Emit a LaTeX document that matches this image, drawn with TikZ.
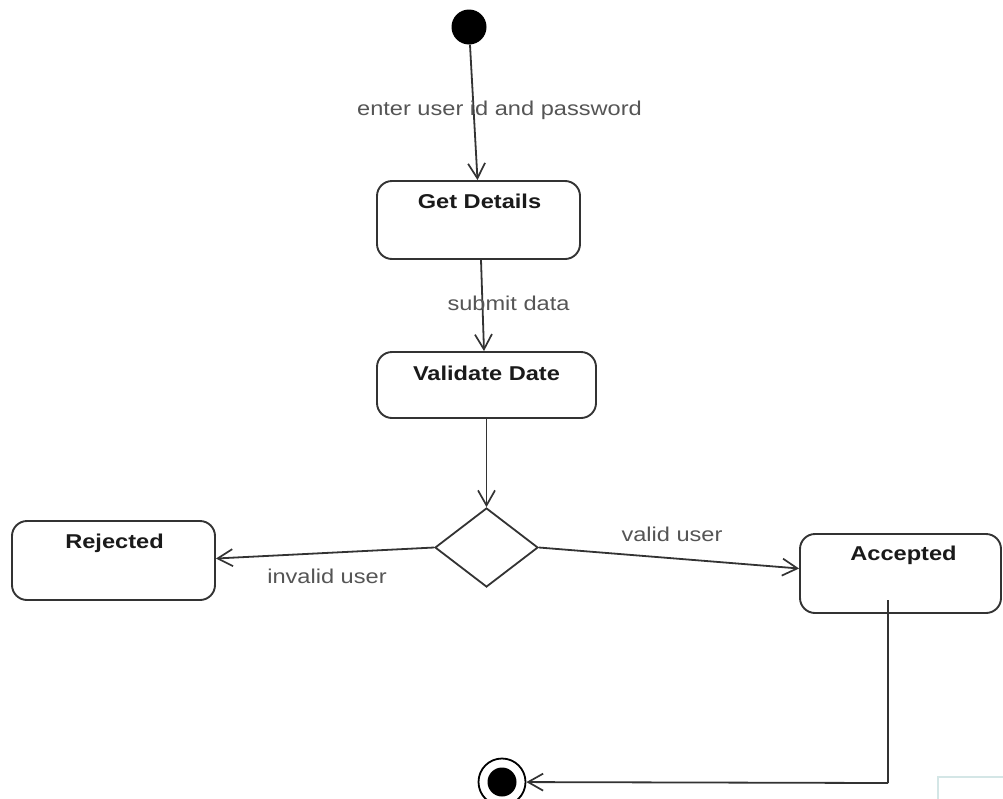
\documentclass[tikz,border=0pt]{standalone}
\usepackage{fontspec}
\setmainfont{Liberation Sans}[FakeStretch=1.18]
\usetikzlibrary{shapes.geometric,arrows.meta}
\definecolor{linec}{HTML}{333333}
\definecolor{titlec}{HTML}{1A1A1A}
\definecolor{labelc}{HTML}{555555}
\definecolor{faintc}{HTML}{D4E6E6}
\tikzset{
  statebox/.style={draw=linec, line width=1.9pt, rounded corners=15pt, inner sep=0pt, fill=white},
  titletext/.style={text=titlec, font=\fontsize{20}{24}\selectfont\bfseries, inner sep=0pt},
  edgetext/.style={text=labelc, font=\fontsize{20}{24}\selectfont, inner sep=0pt},
  flow/.style={draw=linec, line width=1.8pt, -{Straight Barb[length=15pt,width=17pt,line width=1.7pt]}},
  plainline/.style={draw=linec, line width=1.8pt},
  decision/.style={diamond, draw=linec, line width=1.8pt, inner sep=0pt, minimum width=103pt, minimum height=79pt, fill=white},
  startdot/.style={circle, fill=black, inner sep=0pt, minimum size=35pt},
  enddot/.style={circle, draw=black, line width=1.8pt, inner sep=0pt, minimum size=47pt,
    path picture={\fill[black] (path picture bounding box.center) circle (14.5pt);}}
}
\begin{document}
\begin{tikzpicture}[x=1pt,y=-1pt]
\useasboundingbox[fill=white] (0,0) rectangle (1003,798);
% faint crop remnant at bottom right
\draw[faintc, line width=1.2pt] (938,810) -- (938,777) -- (1010,777);

\node[startdot] (start) at (469,27) {};
\node[statebox, minimum width=203pt, minimum height=78pt] (gd) at (478.5,220) {};
\node[titletext] (gdt) at (479.5,201) {Get Details};
\node[statebox, minimum width=219pt, minimum height=66pt] (vd) at (486.5,385) {};
\node[titletext] (vdt) at (486.5,373) {Validate Date};
\node[decision] (dia) at (486.5,547.5) {};
\node[statebox, minimum width=203pt, minimum height=79pt] (rej) at (113.5,560.5) {};
\node[titletext] (rejt) at (114.5,543) {Rejected};
\node[statebox, minimum width=201pt, minimum height=79pt] (acc) at (900.5,573.5) {};
\node[titletext] (acct) at (903.5,555) {Accepted};
\node[enddot] (fin) at (502,782) {};

\coordinate (accin) at (888,600);
\coordinate (corner) at (888,783);

\draw[flow] (start) -- ([xshift=-1pt]gd.north);
\draw[flow] ([xshift=2.5pt]gd.south) -- ([xshift=-2.5pt]vd.north);
\draw[flow] (vd.south) -- (dia.north);
\draw[flow] (dia.west) -- ([yshift=2pt]rej.east);
\draw[flow] (dia.east) -- ([yshift=5pt]acc.west);
\draw[plainline] (accin) -- (corner);
\draw[flow] (corner) -- (fin);

\node[edgetext] (l1) at (499.5,110) {enter user id and password};
\node[edgetext] (l2) at (508.5,303) {submit data};
\node[edgetext] (l3) at (327,576) {invalid user};
\node[edgetext] (l4) at (672,534) {valid user};
\end{tikzpicture}
\end{document}
